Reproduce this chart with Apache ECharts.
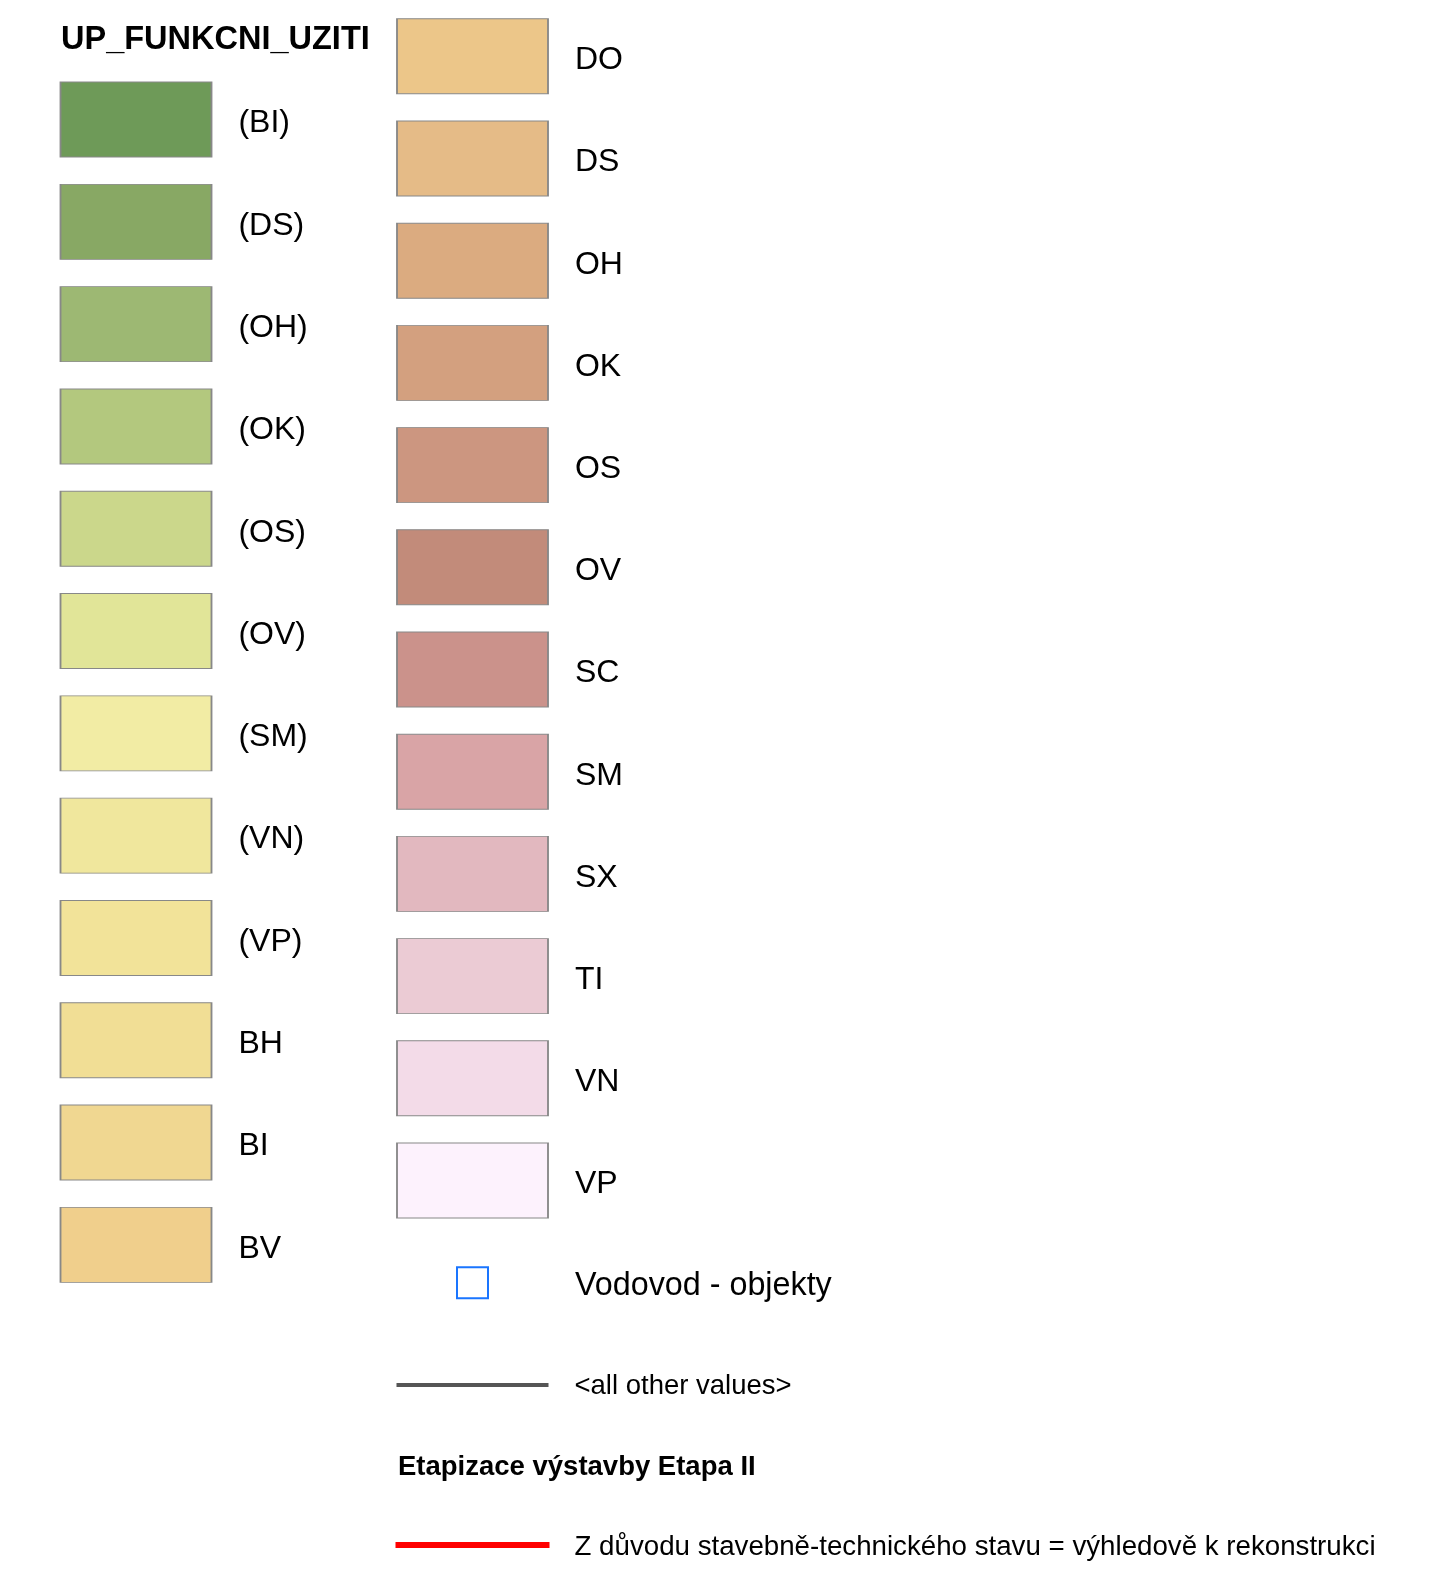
<!DOCTYPE html>
<html><head><meta charset="utf-8">
<script src="https://cdn.jsdelivr.net/npm/echarts@6/dist/echarts.min.js"></script>
<style>html,body{margin:0;padding:0;background:#fff}#c{width:1441px;height:1577px}</style>
</head><body><div id="c"></div>
<script>
// ---- data ----
const leftTitle = 'UP_FUNKCNI_UZITI';
const leftCategories = ['(BI)','(DS)','(OH)','(OK)','(OS)','(OV)','(SM)','(VN)','(VP)','BH','BI','BV'];
const leftColors = ['#6e9a58','#88a864','#9db873','#b3c87e','#cbd78b','#e1e598','#f2eca4','#f0e79d','#f2e399','#f1de95','#f0d791','#f0cf8c'];
const rightCategories = ['DO','DS','OH','OK','OS','OV','SC','SM','SX','TI','VN','VP'];
const rightColors = ['#ecc689','#e5bb87','#dbab80','#d3a07f','#cc9680','#c28b7a','#cb928b','#d9a4a6','#e2b8bf','#ebcbd4','#f3dbe8','#fdf2fd'];
const pointCategory = 'Vodovod - objekty';
const pointColor = '#1a75ff';
const otherCategory = '<all other values>';
const otherColor = '#555555';
const etapaTitle = 'Etapizace výstavby Etapa II';
const etapaCategories = ['Z důvodu stavebně-technického stavu = výhledově k rekonstrukci'];
const etapaColors = ['#ff0000'];

// ---- chart ----
const FONT = "'Liberation Sans', Arial, sans-serif";
const rightRows = rightCategories.concat([pointCategory, otherCategory]);
const chart = echarts.init(document.getElementById('c'), null, {renderer: 'canvas'});

function boxSeries(xi, yi, cats, colors, fs) {
  return {
    type: 'scatter', xAxisIndex: xi, yAxisIndex: yi, symbol: 'rect', symbolSize: [151, 75],
    silent: true, animation: false,
    itemStyle: {borderColor: '#888888', borderWidth: 1.3, opacity: 1},
    label: {show: true, position: 'right', distance: 26, offset: [0, 4], color: '#000', fontSize: fs, fontFamily: FONT,
            formatter: p => p.name},
    data: cats.map((c, i) => ({name: c, value: ['c', c], itemStyle: {color: colors[i]}}))
  };
}

const option = {
  backgroundColor: '#fff',
  animation: false,
  title: [
    {text: leftTitle, left: 56, top: 18.5, textStyle: {fontSize: 32.5, fontWeight: 'bold', color: '#000', fontFamily: FONT}},
    {text: etapaTitle, left: 393, top: 1448, textStyle: {fontSize: 27.5, fontWeight: 'bold', color: '#000', fontFamily: FONT}}
  ],
  grid: [
    {left: 60, width: 152, top: 68.4, height: 12 * 102.3},
    {left: 397, width: 151, top: 5.2, height: 14 * 102.2},
    {left: 397, width: 151, top: 1515, height: 60}
  ],
  xAxis: [0, 1, 2].map(i => ({type: 'category', gridIndex: i, data: ['c'], show: false})),
  yAxis: [
    {type: 'category', gridIndex: 0, data: leftCategories, inverse: true, show: false},
    {type: 'category', gridIndex: 1, data: rightRows, inverse: true, show: false},
    {type: 'category', gridIndex: 2, data: etapaCategories, inverse: true, show: false}
  ],
  series: [
    boxSeries(0, 0, leftCategories, leftColors, 32),
    boxSeries(1, 1, rightCategories, rightColors, 32),
    {
      type: 'scatter', xAxisIndex: 1, yAxisIndex: 1, symbol: 'rect', symbolSize: 31, silent: true,
      itemStyle: {color: '#ffffff', borderColor: pointColor, borderWidth: 2, opacity: 1},
      label: {show: true, position: 'right', distance: 86, offset: [0, 3], color: '#000', fontSize: 32.3, fontFamily: FONT, formatter: p => p.name},
      data: [{name: pointCategory, value: ['c', pointCategory]}]
    },
    {
      type: 'scatter', xAxisIndex: 1, yAxisIndex: 1, symbol: 'rect', symbolSize: [152, 4], silent: true,
      itemStyle: {color: otherColor, opacity: 1},
      label: {show: true, position: 'right', distance: 26, offset: [0, 2], color: '#000', fontSize: 27.5, fontFamily: FONT, formatter: p => p.name},
      data: [{name: otherCategory, value: ['c', otherCategory]}]
    },
    {
      type: 'scatter', xAxisIndex: 2, yAxisIndex: 2, symbol: 'rect', symbolSize: [154, 6], silent: true,
      itemStyle: {opacity: 1},
      label: {show: true, position: 'right', distance: 25, offset: [0, 2], color: '#000', fontSize: 27.7, fontFamily: FONT, formatter: p => p.name},
      data: etapaCategories.map((c, i) => ({name: c, value: ['c', c], itemStyle: {color: etapaColors[i]}}))
    }
  ]
};
chart.setOption(option);
</script>
</body></html>
